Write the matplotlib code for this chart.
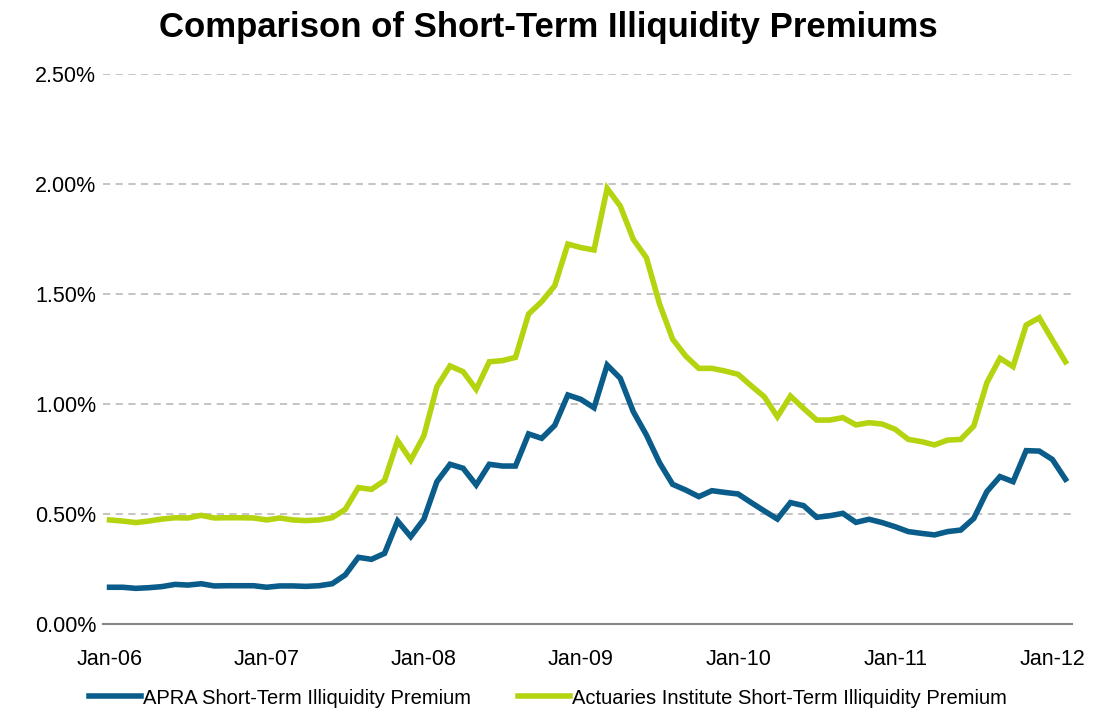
import numpy as np
import matplotlib
matplotlib.use("Agg")
import matplotlib.pyplot as plt
from matplotlib.ticker import FuncFormatter

# monthly, Jan-06 .. Feb-12 (values in %)
apra = [0.167, 0.167, 0.162, 0.165, 0.170, 0.180, 0.177, 0.183, 0.173, 0.174,
        0.174, 0.174, 0.167, 0.173, 0.173, 0.171, 0.174, 0.183, 0.223, 0.303,
        0.294, 0.321, 0.468, 0.397, 0.476, 0.647, 0.726, 0.708, 0.632, 0.726,
        0.718, 0.718, 0.864, 0.844, 0.903, 1.041, 1.021, 0.983, 1.177, 1.117,
        0.965, 0.859, 0.733, 0.635, 0.609, 0.579, 0.606, 0.598, 0.591, 0.552,
        0.514, 0.477, 0.552, 0.538, 0.485, 0.492, 0.503, 0.462, 0.476, 0.461,
        0.442, 0.420, 0.412, 0.405, 0.420, 0.427, 0.480, 0.602, 0.670, 0.647,
        0.788, 0.786, 0.748, 0.658]
actuaries = [0.473, 0.468, 0.461, 0.468, 0.477, 0.483, 0.482, 0.494, 0.482, 0.483,
             0.483, 0.482, 0.473, 0.482, 0.473, 0.470, 0.473, 0.483, 0.521, 0.620,
             0.612, 0.652, 0.833, 0.745, 0.855, 1.079, 1.173, 1.147, 1.067, 1.192,
             1.197, 1.212, 1.409, 1.465, 1.538, 1.727, 1.711, 1.700, 1.980, 1.900,
             1.748, 1.665, 1.455, 1.295, 1.218, 1.162, 1.162, 1.150, 1.135, 1.083,
             1.033, 0.942, 1.036, 0.980, 0.927, 0.927, 0.938, 0.905, 0.915, 0.909,
             0.885, 0.839, 0.829, 0.814, 0.836, 0.839, 0.900, 1.097, 1.208, 1.170,
             1.359, 1.392, 1.291, 1.192]
tick_labels = ["Jan-06", "Jan-07", "Jan-08", "Jan-09", "Jan-10", "Jan-11", "Jan-12"]

plt.rcParams['font.family'] = ['Liberation Sans', 'DejaVu Sans']

blue = "#0A5C8A"
green = "#B5D30F"

x = np.arange(len(apra))

fig = plt.figure(figsize=(10.96, 7.13), dpi=100)
ax = fig.add_axes([103 / 1096, 1 - 624 / 713, (1072 - 103) / 1096, (624 - 74) / 713])

ax.plot(x, apra, color=blue, lw=4, solid_joinstyle='miter', label="APRA Short-Term Illiquidity Premium")
ax.plot(x, actuaries, color=green, lw=4, solid_joinstyle='miter',
        label="Actuaries Institute Short-Term Illiquidity Premium")

ax.set_xlim(-0.5, len(apra) - 0.5)
ax.set_ylim(0, 2.5)
ax.set_yticks(np.arange(0, 2.51, 0.5))
ax.yaxis.set_major_formatter(FuncFormatter(lambda v, p: f"{v:.2f}%"))
ax.set_xticks(np.arange(0, 73, 12))
ax.set_xticklabels(tick_labels)

ax.grid(axis='y', color='#BFBFBF', ls=(0, (4, 3)), lw=1.3)
ax.set_axisbelow(True)
for s in ['top', 'right', 'left']:
    ax.spines[s].set_visible(False)
ax.spines['bottom'].set_color('#868686')
ax.spines['bottom'].set_linewidth(1.5)
ax.tick_params(length=0, labelsize=15.5, colors='black')
ax.tick_params(axis='y', pad=5)
ax.tick_params(axis='x', pad=18)

fig.text(0.5, 1 - 27 / 713, "Comparison of Short-Term Illiquidity Premiums", ha='center', va='center',
         fontsize=25, fontweight='bold')

fig.legend(loc='center', bbox_to_anchor=(0.5, 1 - 698 / 713), ncol=2, frameon=False,
           fontsize=14.5, handlelength=2.6, handletextpad=0.1, columnspacing=2.3)

fig.savefig("out.png", dpi=100)
